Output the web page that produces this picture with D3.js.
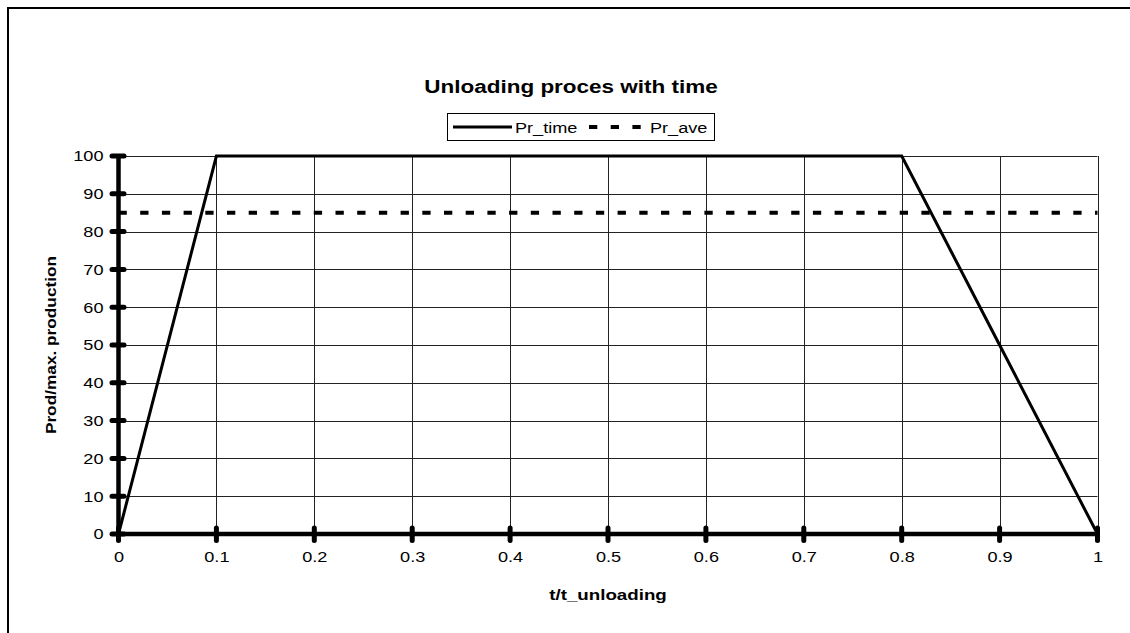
<!DOCTYPE html>
<html><head><meta charset="utf-8">
<script src="https://cdn.jsdelivr.net/npm/d3@7"></script>
<style>body{margin:0;background:#fff}svg{display:block;font-family:"Liberation Sans",Arial,sans-serif}</style>
</head><body>
<script>
const tValues = [0, 0.1, 0.8, 0.9, 1];
const prTime = [0, 100, 100, 50, 0];
const prAve = 85;
const xTicks = [0, 0.1, 0.2, 0.3, 0.4, 0.5, 0.6, 0.7, 0.8, 0.9, 1];
const yTicks = [0, 10, 20, 30, 40, 50, 60, 70, 80, 90, 100];
const xTickLabels = ["0","0.1","0.2","0.3","0.4","0.5","0.6","0.7","0.8","0.9","1"];

const W = 1130, H = 633;
const SX = 1.21, SXB = 1.25; // horizontal text stretch of the original
const svg = d3.select("body").append("svg").attr("width", W).attr("height", H);

function stretchText(sel, s) {
  sel.each(function () {
    const t = d3.select(this);
    const tx = +t.attr("x") || 0, ty = +t.attr("y") || 0;
    t.attr("x", 0).attr("y", 0).attr("transform", `translate(${tx},${ty}) scale(${s},1)`);
  });
}

// outer frame
svg.append("rect").attr("x", 8).attr("y", 8).attr("width", 1200).attr("height", 700)
  .attr("fill", "none").attr("stroke", "#000").attr("stroke-width", 2);

const x = d3.scaleLinear().domain([0, 1]).range([118.5, 1097.5]);
const y = d3.scaleLinear().domain([0, 100]).range([534, 156]);

// gridlines
svg.append("g").selectAll("line").data(yTicks.slice(1)).join("line")
  .attr("x1", x(0)).attr("x2", x(1)).attr("y1", d => Math.round(y(d)) + 0.5).attr("y2", d => Math.round(y(d)) + 0.5)
  .attr("stroke", "#222").attr("stroke-width", 1);
svg.append("g").selectAll("line").data(xTicks.slice(1)).join("line")
  .attr("y1", y(0)).attr("y2", y(100)).attr("x1", d => Math.round(x(d)) + 0.5).attr("x2", d => Math.round(x(d)) + 0.5)
  .attr("stroke", "#222").attr("stroke-width", 1);

// average dashed line
svg.append("line").attr("x1", x(0)).attr("x2", x(1)).attr("y1", y(prAve)).attr("y2", y(prAve))
  .attr("stroke", "#000").attr("stroke-width", 4).attr("stroke-dasharray", "8.3,13.4");

// Pr_time line
const line = d3.line().x((d, i) => x(tValues[i])).y(d => y(d));
svg.append("path").datum(prTime).attr("d", line).attr("fill", "none")
  .attr("stroke", "#000").attr("stroke-width", 3).attr("stroke-linejoin", "miter");

// Y axis
const yAxis = svg.append("g").attr("transform", `translate(${x(0)},0)`)
  .call(d3.axisLeft(y).tickValues(yTicks).tickSize(0).tickPadding(15));
yAxis.select(".domain").remove();
yAxis.selectAll("text").attr("font-size", 15).attr("fill", "#000").attr("font-family", "Liberation Sans, Arial, sans-serif")
  .call(stretchText, SX);
svg.append("line").attr("x1", x(0)).attr("x2", x(0)).attr("y1", y(0)).attr("y2", y(100))
  .attr("stroke", "#000").attr("stroke-width", 4.5);
svg.append("g").selectAll("line").data(yTicks).join("line")
  .attr("x1", x(0) - 6.5).attr("x2", x(0) + 5.5).attr("y1", d => y(d)).attr("y2", d => y(d))
  .attr("stroke", "#000").attr("stroke-width", 5).attr("stroke-linecap", "round");

// X axis
const xAxis = svg.append("g").attr("transform", `translate(0,${y(0)})`)
  .call(d3.axisBottom(x).tickValues(xTicks).tickFormat((d, i) => xTickLabels[i]).tickSize(0).tickPadding(17));
xAxis.select(".domain").remove();
xAxis.selectAll("text").attr("font-size", 15).attr("fill", "#000").attr("font-family", "Liberation Sans, Arial, sans-serif")
  .call(stretchText, SX);
svg.append("line").attr("x1", x(0)).attr("x2", x(1)).attr("y1", y(0)).attr("y2", y(0))
  .attr("stroke", "#000").attr("stroke-width", 4.5);
svg.append("g").selectAll("line").data(xTicks).join("line")
  .attr("x1", d => x(d)).attr("x2", d => x(d)).attr("y1", y(0) - 6).attr("y2", y(0) + 6.5)
  .attr("stroke", "#000").attr("stroke-width", 5).attr("stroke-linecap", "round");

// Title
svg.append("text").attr("transform", `translate(571,93) scale(${SXB},1)`).attr("text-anchor", "middle")
  .attr("font-size", 18).attr("font-weight", "bold").text("Unloading proces with time");

// Axis titles
svg.append("text").attr("transform", `translate(608,600) scale(${SXB},1)`).attr("text-anchor", "middle")
  .attr("font-size", 15).attr("font-weight", "bold").text("t/t_unloading");
svg.append("text").attr("transform", `translate(56,345) rotate(-90) scale(1.15,1)`).attr("text-anchor", "middle")
  .attr("font-size", 15).attr("font-weight", "bold").text("Prod/max. production");

// Legend
const lg = svg.append("g");
lg.append("rect").attr("x", 447.5).attr("y", 113.5).attr("width", 267).attr("height", 27)
  .attr("fill", "#fff").attr("stroke", "#000").attr("stroke-width", 1);
lg.append("line").attr("x1", 453).attr("x2", 512).attr("y1", 127).attr("y2", 127)
  .attr("stroke", "#000").attr("stroke-width", 3);
lg.append("text").attr("transform", `translate(515,133) scale(${SX},1)`).attr("font-size", 15).text("Pr_time");
lg.append("line").attr("x1", 589).attr("x2", 641).attr("y1", 127).attr("y2", 127)
  .attr("stroke", "#000").attr("stroke-width", 4).attr("stroke-dasharray", "8.3,13.4");
lg.append("text").attr("transform", `translate(650,133) scale(${SX},1)`).attr("font-size", 15).text("Pr_ave");
</script>
</body></html>
